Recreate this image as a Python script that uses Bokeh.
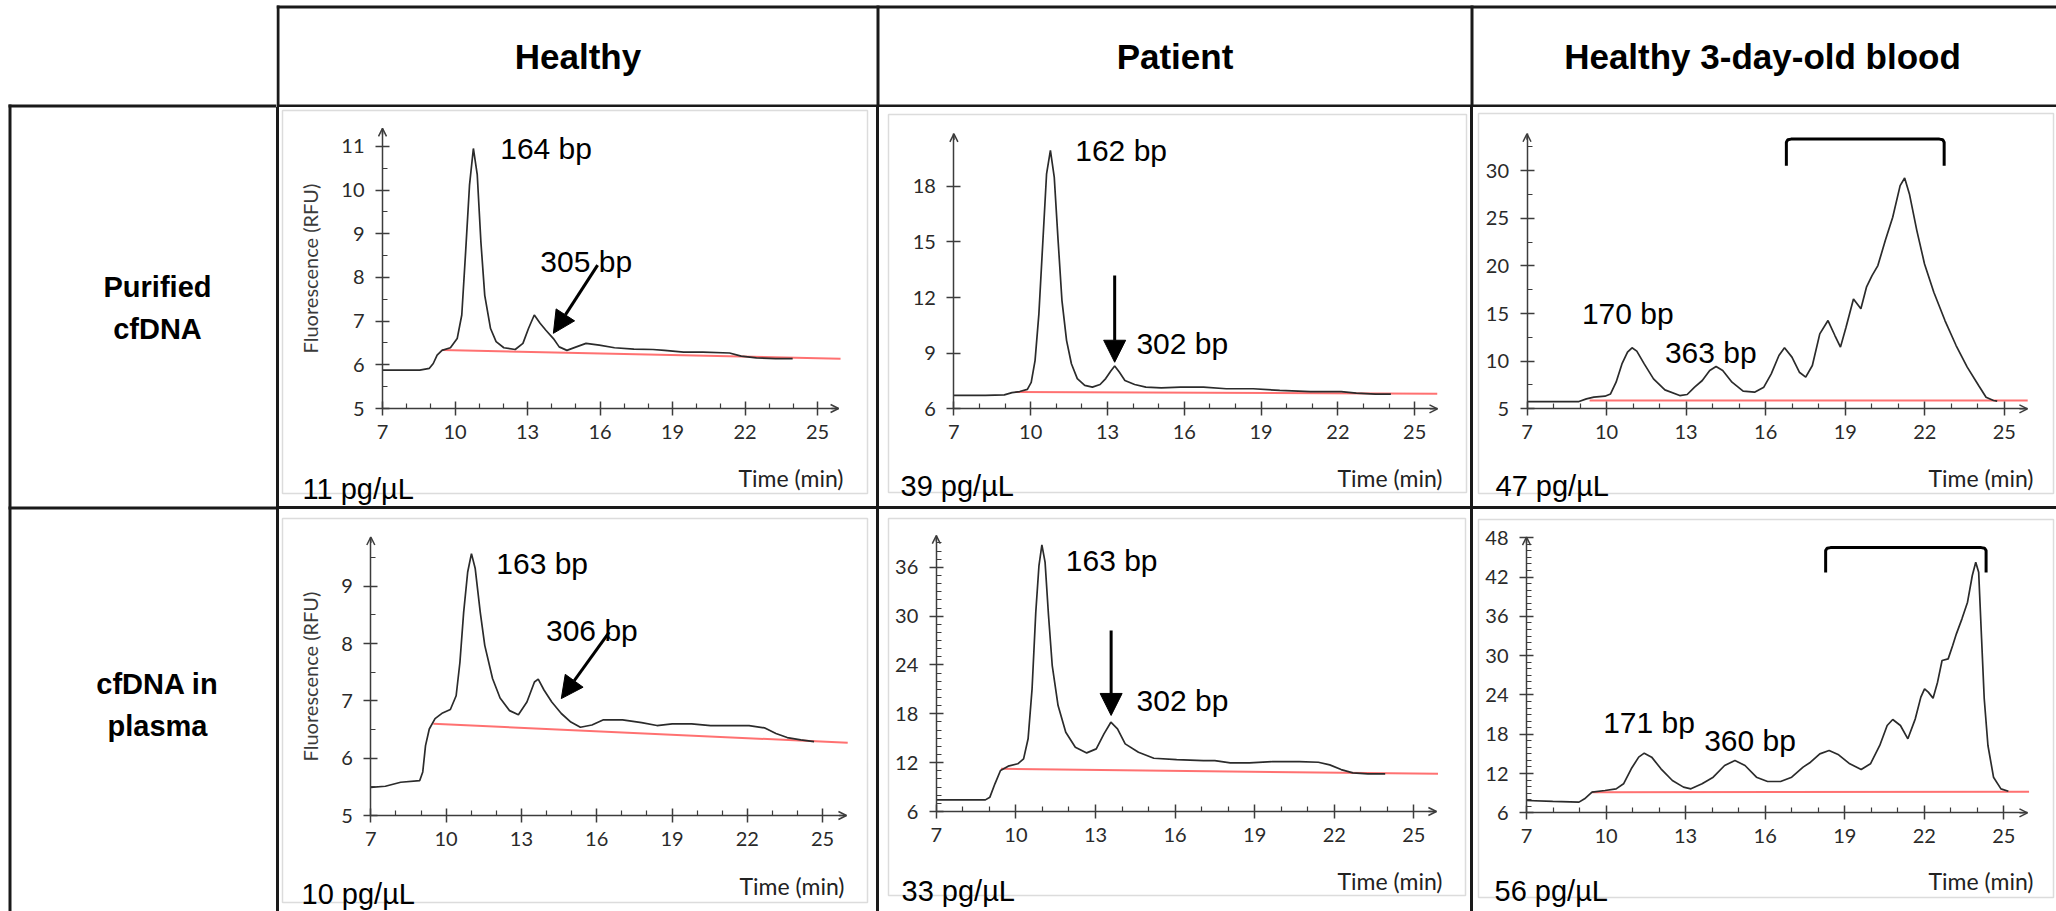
from bokeh.plotting import figure
from bokeh.layouts import row, column
from bokeh.models import Range1d, FixedTicker, Label, Arrow, NormalHead, OpenHead, Div
from bokeh.embed import file_html
from bokeh.resources import INLINE

# ---------------- data ----------------
col_titles = ["Healthy", "Patient", "Healthy 3-day-old blood"]
row_titles = [["Purified", "cfDNA"], ["cfDNA in", "plasma"]]
conc = [["11 pg/µL", "39 pg/µL", "47 pg/µL"], ["10 pg/µL", "33 pg/µL", "56 pg/µL"]]
x_ticks = [7, 10, 13, 16, 19, 22, 25]

# Healthy, purified cfDNA
hp_t = [7.0, 8.54, 8.94, 9.1, 9.26, 9.46, 9.81, 10.09, 10.28, 10.44, 10.6, 10.76, 10.92, 11.07, 11.23,
        11.47, 11.7, 12.02, 12.49, 12.81, 13.04, 13.28, 13.52, 13.76, 14.07, 14.31, 14.63, 15.02, 15.42,
        15.97, 16.6, 17.4, 18.19, 18.67, 19.46, 20.25, 21.36, 21.84, 22.47, 23.26, 23.97]
hp_v = [5.88, 5.88, 5.92, 6.03, 6.22, 6.33, 6.39, 6.6, 7.14, 8.59, 10.11, 10.95, 10.35, 8.82, 7.59,
        6.83, 6.53, 6.39, 6.35, 6.49, 6.83, 7.14, 6.95, 6.79, 6.6, 6.41, 6.33, 6.41, 6.49,
        6.45, 6.39, 6.36, 6.35, 6.33, 6.29, 6.29, 6.27, 6.2, 6.16, 6.14, 6.14]
hp_base_t = [9.46, 25.95]
hp_base_v = [6.34, 6.14]

# Patient, purified cfDNA
pp_t = [7.0, 8.23, 8.97, 9.27, 9.57, 9.87, 10.02, 10.17, 10.32, 10.47, 10.62, 10.77, 10.92, 11.07, 11.22,
        11.4, 11.59, 11.82, 12.11, 12.41, 12.71, 12.93, 13.13, 13.28, 13.46, 13.68, 14.06, 14.5, 15.1,
        15.85, 16.75, 17.64, 18.69, 19.73, 20.93, 22.13, 22.72, 23.47, 24.07]
pp_v = [6.72, 6.72, 6.75, 6.87, 6.93, 7.05, 7.42, 8.6, 11.12, 14.9, 18.67, 19.93, 18.49, 15.08, 11.85,
        9.69, 8.43, 7.63, 7.26, 7.17, 7.31, 7.63, 8.04, 8.31, 7.98, 7.53, 7.31, 7.17, 7.13,
        7.17, 7.17, 7.08, 7.08, 6.99, 6.93, 6.93, 6.84, 6.79, 6.79]
pp_base_t = [9.4, 25.88]
pp_base_v = [6.9, 6.81]

# Healthy 3-day-old blood, purified cfDNA
op_t = [7.0, 8.96, 9.24, 9.52, 9.94, 10.15, 10.36, 10.58, 10.79, 10.96, 11.14, 11.42, 11.77, 12.2, 12.76,
        13.04, 13.32, 13.61, 13.89, 14.13, 14.38, 14.73, 15.15, 15.58, 15.93, 16.21, 16.5, 16.71, 16.99,
        17.27, 17.51, 17.76, 18.04, 18.35, 18.61, 18.82, 19.03, 19.31, 19.59, 19.8, 20.01, 20.23, 20.51,
        20.79, 21.07, 21.24, 21.42, 21.7, 21.99, 22.34, 22.76, 23.18, 23.6, 24.03, 24.31, 24.59, 24.73]
op_v = [5.76, 5.76, 6.04, 6.22, 6.32, 6.56, 7.79, 9.71, 10.94, 11.4, 11.05, 9.71, 8.14, 6.99, 6.39,
        6.5, 7.27, 7.97, 9.02, 9.44, 9.02, 7.79, 6.85, 6.74, 7.27, 8.67, 10.59, 11.4, 10.42,
        8.84, 8.32, 9.54, 12.86, 14.26, 12.69, 11.47, 13.56, 16.53, 15.49, 17.76, 18.98, 20.03, 22.65,
        25.1, 28.42, 29.22, 27.55, 23.7, 20.2, 17.23, 14.26, 11.64, 9.37, 7.44, 6.22, 5.87, 5.8]
op_base_t = [9.36, 25.88]
op_base_v = [5.87, 5.87]

# Healthy, cfDNA in plasma
hm_t = [7.0, 7.58, 8.19, 8.95, 9.07, 9.18, 9.33, 9.56, 9.86, 10.17, 10.4, 10.55, 10.7, 10.86, 11.01,
        11.16, 11.36, 11.54, 11.85, 12.15, 12.53, 12.88, 13.22, 13.52, 13.67, 13.9, 14.21, 14.59, 14.97,
        15.35, 15.81, 16.27, 17.03, 17.79, 18.4, 19.01, 19.78, 20.54, 21.3, 22.07, 22.68, 23.14, 23.59,
        24.13, 24.66]
hm_v = [5.49, 5.51, 5.58, 5.61, 5.76, 6.22, 6.51, 6.69, 6.79, 6.85, 7.09, 7.67, 8.55, 9.25, 9.57,
        9.31, 8.55, 7.97, 7.39, 7.05, 6.83, 6.76, 6.98, 7.33, 7.38, 7.19, 6.98, 6.78, 6.63,
        6.54, 6.58, 6.67, 6.67, 6.62, 6.57, 6.6, 6.6, 6.57, 6.57, 6.57, 6.53, 6.43, 6.36,
        6.32, 6.29]
hm_base_t = [9.49, 26.0]
hm_base_v = [6.6, 6.27]

# Patient, cfDNA in plasma
pm_t = [7.0, 8.85, 9.02, 9.21, 9.42, 9.71, 10.07, 10.29, 10.46, 10.61, 10.75, 10.87, 10.98, 11.1, 11.23,
        11.37, 11.59, 11.88, 12.24, 12.67, 13.03, 13.32, 13.58, 13.83, 14.12, 14.62, 15.2, 16.06, 17.07,
        17.5, 18.08, 18.8, 19.67, 20.68, 21.4, 21.83, 22.26, 22.7, 23.27, 23.92]
pm_v = [7.43, 7.43, 7.76, 9.4, 11.04, 11.57, 11.86, 12.47, 14.93, 21.07, 30.49, 36.22, 38.76, 36.63, 30.08,
        23.93, 19.02, 15.74, 13.9, 13.2, 13.69, 15.53, 16.97, 16.15, 14.31, 13.28, 12.54, 12.38, 12.26,
        12.26, 11.97, 11.97, 12.13, 12.13, 12.05, 11.73, 11.15, 10.74, 10.62, 10.62]
pm_base_t = [9.44, 25.91]
pm_base_v = [11.24, 10.63]

# Healthy 3-day-old blood, cfDNA in plasma
om_t = [7.0, 7.99, 8.98, 9.19, 9.47, 9.96, 10.38, 10.66, 10.95, 11.23, 11.44, 11.72, 12.07, 12.5, 12.92,
        13.2, 13.62, 14.04, 14.47, 14.86, 15.24, 15.67, 16.09, 16.58, 17.0, 17.43, 17.71, 18.06, 18.41,
        18.77, 19.19, 19.62, 19.97, 20.32, 20.6, 20.81, 21.1, 21.38, 21.66, 21.87, 22.01, 22.15, 22.33,
        22.5, 22.67, 22.9, 23.07, 23.21, 23.42, 23.63, 23.81, 23.94, 24.05, 24.16, 24.26, 24.4, 24.61,
        24.89, 25.17]
om_v = [7.88, 7.73, 7.63, 8.14, 9.15, 9.41, 9.66, 10.43, 12.72, 14.5, 15.11, 14.5, 12.72, 10.93, 9.92,
        9.66, 10.43, 11.44, 13.22, 13.99, 13.22, 11.44, 10.78, 10.78, 11.44, 12.97, 13.73, 15.0, 15.51,
        14.85, 13.48, 12.61, 13.48, 16.28, 19.33, 20.25, 19.33, 17.3, 20.35, 23.66, 24.94, 24.43, 23.51,
        25.95, 29.26, 29.51, 31.55, 33.33, 35.62, 38.17, 42.24, 44.27, 42.75, 32.57, 23.41, 16.28, 11.44,
        9.66, 9.3]
om_base_t = [9.47, 25.95]
om_base_v = [9.15, 9.2]

# brackets over the high-molecular-weight region: [start, end, low, high]
bracket_purified = [16.78, 22.73, 30.5, 33.3]
bracket_plasma = [18.28, 24.33, 42.7, 46.5]

# ---------------- styling helpers ----------------
LINE = "#1a1a1a"
AX = "#3c3c3c"
TXT_FONT = "Liberation Sans"
TICK_FONT = "Lato"


class Chart:
    """A cell-sized plot whose frame fills the whole cell; axes are pinned at (7, y0)."""

    def __init__(self, w, h, ox, oy, ppx, ppy, y0, xend, yend, yticks, yminor, ylabel=None):
        self.ox, self.oy, self.ppx, self.ppy, self.y0, self.h = ox, oy, ppx, ppy, y0, h
        xr = Range1d(7 - ox / ppx, 7 + (w - ox) / ppx)
        yr = Range1d(y0 - (h - oy) / ppy, y0 + oy / ppy)
        p = figure(width=w, height=h, x_range=xr, y_range=yr, output_backend="svg",
                   toolbar_location=None, min_border=0, min_border_left=0, min_border_right=0,
                   min_border_top=0, min_border_bottom=0)
        p.background_fill_color = "white"
        p.border_fill_color = "white"
        p.outline_line_color = None
        p.grid.visible = False
        minor_x = [k for k in range(7, 26) if (k - 7) % 3]
        p.xaxis.ticker = FixedTicker(ticks=x_ticks, minor_ticks=minor_x)
        p.yaxis.ticker = FixedTicker(ticks=yticks, minor_ticks=yminor)
        p.xaxis.fixed_location = y0
        p.yaxis.fixed_location = 7
        p.xaxis.bounds = (7, xend)
        p.yaxis.bounds = (y0, yend)
        for ax in (p.xaxis, p.yaxis):
            ax.axis_line_color = AX
            ax.axis_line_width = 1.5
            ax.major_tick_line_color = AX
            ax.major_tick_line_width = 1.5
            ax.minor_tick_line_color = AX
            ax.minor_tick_line_width = 1.2
            ax.major_tick_in = 7
            ax.major_tick_out = 7
            ax.minor_tick_in = 5
            ax.minor_tick_out = 0
            ax.major_label_text_font = TICK_FONT
            ax.major_label_text_font_size = "20px"
            ax.major_label_text_color = "#2a2a2a"
        p.xaxis.major_label_standoff = 9
        p.yaxis.major_label_standoff = 11
        if ylabel:
            p.yaxis.axis_label = ylabel
            p.yaxis.axis_label_text_font = TICK_FONT
            p.yaxis.axis_label_text_font_size = "20px"
            p.yaxis.axis_label_text_font_style = "normal"
            p.yaxis.axis_label_text_color = "#3a3a3a"
            p.yaxis.axis_label_standoff = 16
        # arrow heads at the ends of both axes
        for xs, ys, xe, ye in [(xend - 0.3, y0, xend, y0), (7, yend - 6.0 / ppy, 7, yend)]:
            p.add_layout(Arrow(x_start=xs, y_start=ys, x_end=xe, y_end=ye,
                               end=OpenHead(size=8, line_color=AX, line_width=1.5),
                               line_color=AX, line_width=1.5))
        self.p = p

    # pixel offsets inside the cell -> data coordinates (used for decorations/annotations only)
    def dx(self, px):
        return 7 + (px - self.ox) / self.ppx

    def dy(self, py):
        return self.y0 + (self.oy - py) / self.ppy

    def frame_box(self, l, t, r, b):
        self.p.quad(left=[self.dx(l)], right=[self.dx(r)], top=[self.dy(t)], bottom=[self.dy(b)],
                    fill_color=None, line_color="#dcdcdc", line_width=1.5)

    def traces(self, t, v, bt, bv):
        self.p.line(bt, bv, line_color="#ff4d4d", line_width=2, line_alpha=0.8)
        self.p.line(t, v, line_color="#2b2b2b", line_width=1.7)

    def label(self, x, y, text, size="30px"):
        self.p.add_layout(Label(x=x, y=y, text=text, text_font=TXT_FONT, text_font_size=size,
                                text_align="left", text_baseline="middle", text_color="black"))

    def footer(self, conc_text, cx, cy, tx, ty):
        self.p.add_layout(Label(x=self.dx(cx), y=self.dy(cy), text=conc_text, text_font=TXT_FONT,
                                text_font_size="29px", text_align="left", text_baseline="middle",
                                text_color="black"))
        self.p.add_layout(Label(x=self.dx(tx), y=self.dy(ty), text="Time (min)", text_font=TICK_FONT,
                                text_font_size="23px", text_align="right", text_baseline="middle",
                                text_color="#222222"))

    def arrow(self, xs, ys, xe, ye):
        self.p.add_layout(Arrow(x_start=xs, y_start=ys, x_end=xe, y_end=ye, line_width=3,
                                line_color="black",
                                end=NormalHead(size=22, fill_color="black", line_color="black")))

    def bracket(self, b):
        x0, x1, lo, hi = b
        r = (x1 - x0) * 0.03
        k = (hi - lo) * 0.12
        self.p.line([x0, x0, x0 + r * 0.3, x0 + r, x1 - r, x1 - r * 0.3, x1, x1],
                    [lo, hi - k, hi - k * 0.2, hi, hi, hi - k * 0.2, hi - k, lo],
                    line_color="black", line_width=3)


# ---------------- row 1: purified cfDNA (cells 399 px high) ----------------
c1 = Chart(597, 399, 103, 301, 24.17, 43.7, 5, 25.87, 11.41, [5, 6, 7, 8, 9, 10, 11],
           [5.5, 6.5, 7.5, 8.5, 9.5, 10.5], "Fluorescence (RFU)")
c1.frame_box(3, 3, 588, 386)
c1.traces(hp_t, hp_v, hp_base_t, hp_base_v)
c1.label(11.87, 10.96, "164 bp")
c1.label(13.53, 8.36, "305 bp")
c1.arrow(15.9, 8.28, 14.07, 6.72)
c1.footer(conc[0][0], 23, 381, 564, 370)

c2 = Chart(591, 399, 74.4, 301.3, 25.6, 18.55, 6, 25.89, 20.82, [6, 9, 12, 15, 18], [])
c2.frame_box(9, 7, 587, 385)
c2.traces(pp_t, pp_v, pp_base_t, pp_base_v)
c2.label(11.74, 19.92, "162 bp")
c2.label(14.13, 9.5, "302 bp")
c2.arrow(13.28, 13.19, 13.28, 8.51)
c2.footer(conc[0][1], 21, 378, 563, 370)

c3 = Chart(583, 399, 53.5, 301.3, 26.52, 9.53, 5, 25.87, 33.86, [5, 10, 15, 20, 25, 30],
           [7.5, 12.5, 17.5, 22.5, 27.5, 32.5])
c3.frame_box(5, 6, 580, 386)
c3.traces(op_t, op_v, op_base_t, op_base_v)
c3.label(9.07, 14.97, "170 bp")
c3.label(12.2, 10.94, "363 bp")
c3.bracket(bracket_purified)
c3.footer(conc[0][2], 22, 378, 560, 370)

# ---------------- row 2: cfDNA in plasma (cells 402 px high) ----------------
c4 = Chart(597, 402, 91.3, 306, 25.1, 57.3, 5, 25.95, 9.86, [5, 6, 7, 8, 9],
           [5.5, 6.5, 7.5, 8.5, 9.5], "Fluorescence (RFU)")
c4.frame_box(3, 9, 588, 393)
c4.traces(hm_t, hm_v, hm_base_t, hm_base_v)
c4.label(12.0, 9.39, "163 bp")
c4.label(13.98, 8.23, "306 bp")
c4.arrow(16.5, 8.2, 14.59, 7.04)
c4.footer(conc[1][0], 22, 384, 565, 376)

c5 = Chart(591, 402, 56.8, 302, 26.53, 8.14, 6, 25.85, 39.9, [6, 12, 18, 24, 30, 36],
           [k for k in range(7, 40) if k % 6])
c5.frame_box(9, 9, 586, 386)
c5.traces(pm_t, pm_v, pm_base_t, pm_base_v)
c5.label(11.88, 36.84, "163 bp")
c5.label(14.55, 19.64, "302 bp")
c5.arrow(13.59, 28.24, 13.59, 17.8)
c5.footer(conc[1][1], 22, 381, 563, 371)

c6 = Chart(583, 402, 53, 303.3, 26.52, 6.548, 6, 25.89, 48.09, [6, 12, 18, 24, 30, 36, 42, 48],
           [k for k in range(7, 48) if k % 6])
c6.frame_box(5, 10, 580, 388)
c6.traces(om_t, om_v, om_base_t, om_base_v)
c6.label(9.89, 19.84, "171 bp")
c6.label(13.7, 17.04, "360 bp")
c6.bracket(bracket_plasma)
c6.footer(conc[1][2], 21, 381, 560, 371)


# ---------------- table frame ----------------
def blank(w, h):
    p = figure(width=w, height=h, x_range=Range1d(0, w), y_range=Range1d(h, 0),
               output_backend="svg", toolbar_location=None, min_border=0,
               x_axis_type=None, y_axis_type=None)
    p.grid.visible = False
    p.outline_line_color = None
    p.background_fill_color = "white"
    p.border_fill_color = "white"
    return p


def bold(p, x, y, text, size):
    p.add_layout(Label(x=x, y=y, text=text, text_font=TXT_FONT, text_font_size=size,
                       text_font_style="bold", text_align="center", text_baseline="middle",
                       text_color="black"))


# left column (row titles) spanning the full height
left = blank(276, 911)
left.quad(left=[8, 8, 8], right=[276, 11, 276], top=[104, 104, 506], bottom=[107, 911, 509],
          fill_color=LINE, line_color=None)
for ys, lines in zip([[286, 328], [683, 725]], row_titles):
    for yy, tx in zip(ys, lines):
        bold(left, 157, yy, tx, "29px")

# header above the three chart columns
head = blank(1780, 107)
head.quad(left=[0, 0, 0, 600, 1194], right=[1780, 1780, 3, 603, 1197],
          top=[5, 104, 5, 5, 5], bottom=[8, 107, 107, 107, 107],
          fill_color=LINE, line_color=None)
for cx, ttl in zip([301.5, 898.5, 1486], col_titles):
    bold(head, cx, 56, ttl, "35px")


def vsep(h):
    return Div(width=3, height=h, styles={"background-color": LINE}, margin=(0, 0, 0, 0))


r1 = row(vsep(399), c1.p, vsep(399), c2.p, vsep(399), c3.p, spacing=0)
hsep = Div(width=1780, height=3, styles={"background-color": LINE}, margin=(0, 0, 0, 0))
r2 = row(vsep(402), c4.p, vsep(402), c5.p, vsep(402), c6.p, spacing=0)

layout = row(left, column(head, r1, hsep, r2, spacing=0), spacing=0)

open("out.html", "w").write(file_html(layout, INLINE))
